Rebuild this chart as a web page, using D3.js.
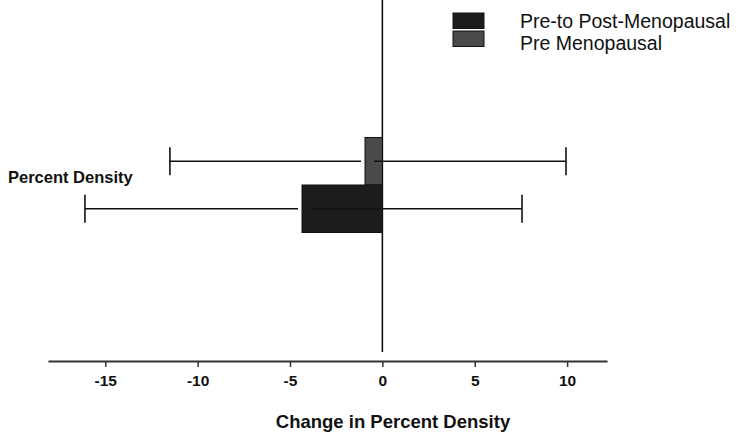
<!DOCTYPE html>
<html>
<head>
<meta charset="utf-8">
<script src="https://cdn.jsdelivr.net/npm/d3@7"></script>
<style>
body { margin: 0; background: #fff; }
svg { font-family: "Liberation Sans", Arial, sans-serif; }
</style>
</head>
<body>
<svg id="chart" width="745" height="432"></svg>
<script>
// data
var categories = ["Percent Density"];
var seriesNames = ["Pre Menopausal", "Pre-to Post-Menopausal"];
var seriesColors = ["#4a4a4a", "#1c1c1c"];
var means = [-0.94, -4.35];
var lower = [-11.5, -16.1];
var upper = [9.94, 7.56];
var xTicks = [-15, -10, -5, 0, 5, 10];
var legendOrder = [1, 0];

var svg = d3.select("#chart");

var x = d3.scaleLinear().domain([-18.1, 12.16]).range([48, 607]);
// band of 95px centred at y=185
var y = d3.scaleBand().domain(categories).range([0, 370]).paddingInner(0).paddingOuter(1.447);
var ySub = d3.scaleBand().domain(seriesNames).range([0, y.bandwidth()]);

// zero line
svg.append("line")
    .attr("x1", x(0)).attr("x2", x(0))
    .attr("y1", 0).attr("y2", 352)
    .attr("stroke", "#111").attr("stroke-width", 1.6);

// axis
var axisY = 361;
var xAxis = d3.axisBottom(x).tickValues(xTicks).tickSize(6).tickSizeOuter(0).tickPadding(8)
    .tickFormat(function(d) { return String(d); });
var ax = svg.append("g").attr("transform", "translate(0," + axisY + ")").call(xAxis);
ax.select(".domain").attr("stroke", "#333").attr("stroke-width", 2);
ax.selectAll(".tick line").attr("stroke", "#333").attr("stroke-width", 1.5);
ax.selectAll(".tick text")
    .attr("fill", "#111")
    .style("font-size", "15.5px")
    .style("font-weight", "bold")
    .style("font-family", "'Liberation Sans', Arial, sans-serif");

svg.append("text")
    .attr("x", 393).attr("y", 428)
    .attr("text-anchor", "middle")
    .style("font-size", "18.5px").style("font-weight", "bold")
    .attr("fill", "#111")
    .text("Change in Percent Density");

// category label
svg.append("text")
    .attr("x", 8).attr("y", 183)
    .style("font-size", "16.5px").style("font-weight", "bold")
    .attr("fill", "#111")
    .text(categories[0]);

// bars + error bars
var g = svg.append("g");
seriesNames.forEach(function(name, i) {
    var y0 = y(categories[0]) + ySub(name);
    var h = ySub.bandwidth();
    var cy = y0 + h / 2;
    var xl = Math.min(x(means[i]), x(0));
    g.append("rect")
        .attr("x", xl).attr("y", y0)
        .attr("width", Math.abs(x(means[i]) - x(0))).attr("height", h)
        .attr("fill", seriesColors[i])
        .attr("stroke", "#111").attr("stroke-width", 1);
    // whisker to the lower bound (stops short of the bar)
    g.append("line")
        .attr("x1", x(lower[i])).attr("x2", x(means[i]) - 4)
        .attr("y1", cy).attr("y2", cy)
        .attr("stroke", "#111").attr("stroke-width", 1.6);
    // whisker to the upper bound (starts inside the bar)
    g.append("line")
        .attr("x1", x(means[i]) + 9).attr("x2", x(upper[i]))
        .attr("y1", cy).attr("y2", cy)
        .attr("stroke", "#111").attr("stroke-width", 1.6);
    [lower[i], upper[i]].forEach(function(v) {
        g.append("line")
            .attr("x1", x(v)).attr("x2", x(v))
            .attr("y1", cy - 14).attr("y2", cy + 14)
            .attr("stroke", "#111").attr("stroke-width", 1.6);
    });
});

// legend
var leg = svg.append("g");
legendOrder.forEach(function(si, k) {
    leg.append("rect")
        .attr("x", 453).attr("y", 13 + k * 18)
        .attr("width", 31).attr("height", 15.5)
        .attr("fill", seriesColors[si])
        .attr("stroke", "#111").attr("stroke-width", 1);
    leg.append("text")
        .attr("x", 520).attr("y", 28 + k * 22)
        .style("font-size", "19.5px")
        .attr("fill", "#111")
        .text(seriesNames[si]);
});
</script>
</body>
</html>
